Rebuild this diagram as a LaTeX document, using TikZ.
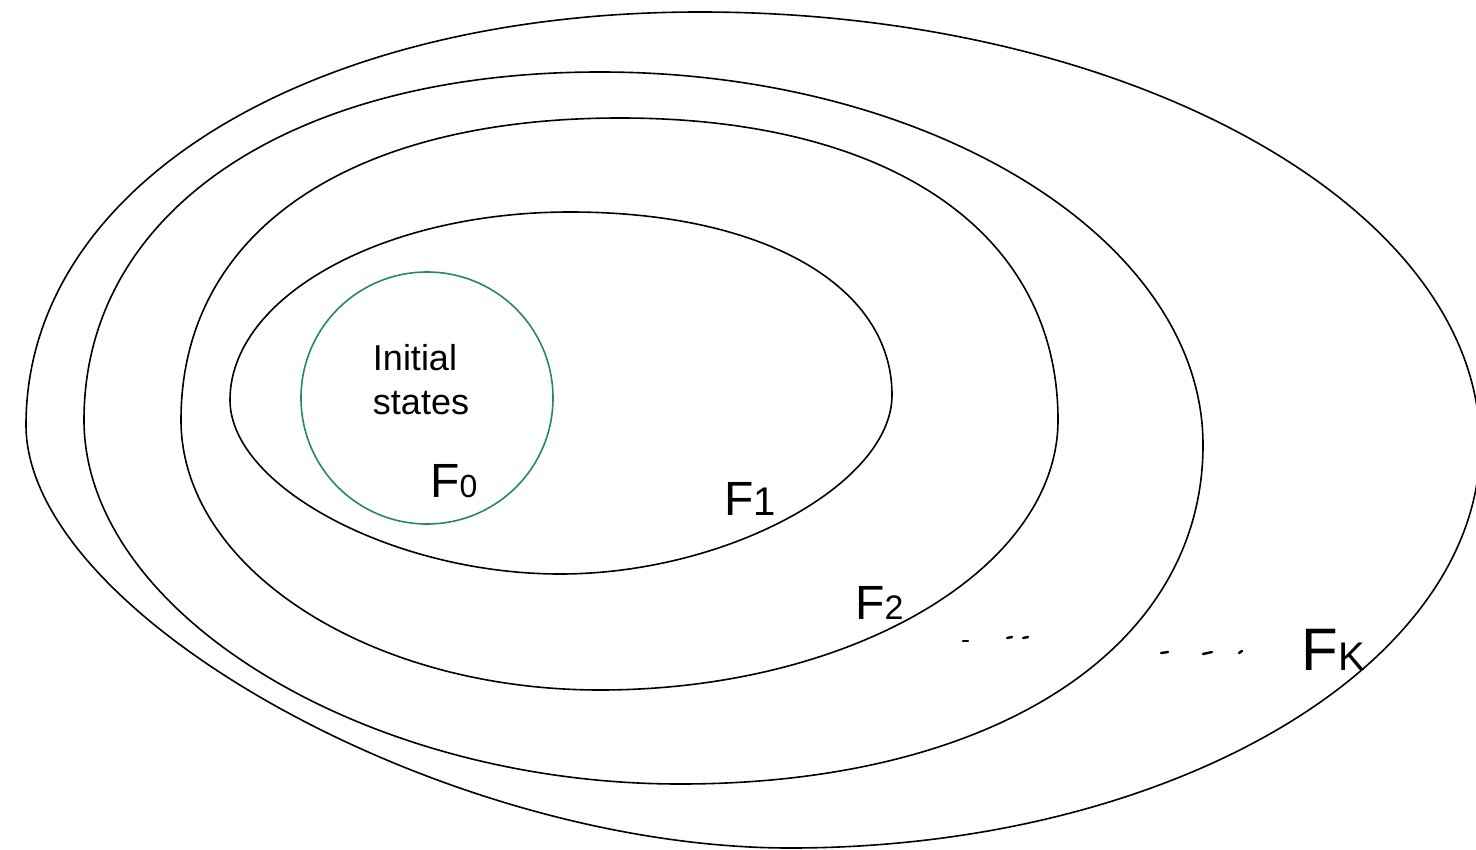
\documentclass[tikz,border=0pt]{standalone}
\usepackage{fontspec}
\setmainfont{Liberation Sans}
\definecolor{initgreen}{RGB}{38,135,105}
\tikzset{
  setline/.style={draw=black, line width=0.8pt},
  initline/.style={draw=initgreen, line width=0.8pt},
  hand/.style={inner sep=0pt, anchor=base west, text=black},
  dotmark/.style={line width=1.2pt, line cap=round}
}
\begin{document}
\begin{tikzpicture}[x=0.5pt,y=-0.5pt]
\useasboundingbox (0,0) rectangle (1476,850);
\begin{scope}
\clip (0,0) rectangle (1476,850);
% F_K (outermost)
\draw[setline] (26,425)
  .. controls (26,185.5) and (309.1,12) .. (700,12)
  .. controls (1129,12) and (1480,206.8) .. (1480,445)
  .. controls (1480,666.7) and (1169.5,848) .. (790,848)
  .. controls (446.2,848) and (26,615.4) .. (26,425) -- cycle;
% third set
\draw[setline] (84,420)
  .. controls (84,211.2) and (290.4,72) .. (600,72)
  .. controls (931.7,72) and (1203,239.8) .. (1203,445)
  .. controls (1203,648.4) and (993.8,784) .. (680,784)
  .. controls (364.1,784) and (84,612.9) .. (84,420) -- cycle;
% F_2
\draw[setline] (181,420)
  .. controls (181,232.8) and (347.8,118) .. (620,118)
  .. controls (891.6,118) and (1058,232.8) .. (1058,420)
  .. controls (1058,568.5) and (851.9,690) .. (600,690)
  .. controls (369.5,690) and (181,568.5) .. (181,420) -- cycle;
% F_1
\draw[setline] (230,400)
  .. controls (230,296.6) and (383,212) .. (570,212)
  .. controls (763.2,212) and (892,285.2) .. (892,395)
  .. controls (892,484.5) and (726,574) .. (560,574)
  .. controls (395,574) and (230,487) .. (230,400) -- cycle;
\end{scope}
% initial states
\node[circle, initline, minimum size=126pt, inner sep=0pt] (init) at (427,398) {};
\node[align=left, font=\fontsize{18}{22}\selectfont, anchor=center] (inittext) at (421,380) {Initial\\states};
% labels
\node[hand] (f0) at (430,497) {\fontsize{24}{24}\selectfont F\fontsize{16}{16}\selectfont 0};
\node[hand] (f1) at (724,515) {\fontsize{24}{24}\selectfont F\fontsize{20}{20}\selectfont 1};
\node[hand] (f2) at (855,619) {\fontsize{24}{24}\selectfont F\fontsize{17}{17}\selectfont 2};
\node[hand] (fk) at (1301,670) {\fontsize{30}{30}\selectfont F\fontsize{20}{20}\selectfont K};
% dots
\draw[dotmark] (963,641) -- (968,641);
\draw[dotmark] (1007,638) -- (1012,637);
\draw[dotmark] (1023,638) -- (1028,637);
\draw[dotmark] (1161,653) -- (1168,652);
\draw[dotmark] (1203,654) -- (1212,652);
\draw[dotmark] (1239,653) -- (1242,651);
\end{tikzpicture}
\end{document}
